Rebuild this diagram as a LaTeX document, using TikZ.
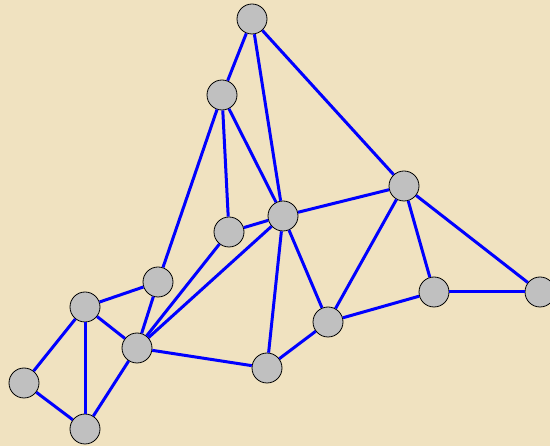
\documentclass[tikz,border=0pt]{standalone}
\usepackage{xcolor}
\definecolor{paper}{RGB}{240,226,192}
\definecolor{vgray}{RGB}{192,192,192}
\begin{document}
\begin{tikzpicture}[x=1pt, y=-1pt,
	vertex/.style={circle, draw=black, line width=0.8pt, fill=vgray, minimum size=30pt, inner sep=0pt},
	link/.style={blue, line width=3pt}]
	\useasboundingbox (0, 0) rectangle (550, 446);
	\clip (0, 0) rectangle (550, 446);
	\fill[paper] (0, 0) rectangle (550, 446);
	\node[vertex] (a) at (252, 19) {};
	\node[vertex] (b) at (222, 95) {};
	\node[vertex] (c) at (404, 186) {};
	\node[vertex] (d) at (283, 216) {};
	\node[vertex] (e) at (229, 232) {};
	\node[vertex] (f) at (158, 282) {};
	\node[vertex] (g) at (85, 307) {};
	\node[vertex] (h) at (137, 348) {};
	\node[vertex] (i) at (24, 383) {};
	\node[vertex] (j) at (85, 429) {};
	\node[vertex] (k) at (267, 368) {};
	\node[vertex] (l) at (328, 322) {};
	\node[vertex] (m) at (434, 292) {};
	\node[vertex] (n) at (540, 292) {};
	\draw[link] (a) -- (b);
	\draw[link] (a) -- (d);
	\draw[link] (a) -- (c);
	\draw[link] (b) -- (e);
	\draw[link] (b) -- (d);
	\draw[link] (b) -- (f);
	\draw[link] (e) -- (d);
	\draw[link] (e) -- (h);
	\draw[link] (d) -- (h);
	\draw[link] (d) -- (c);
	\draw[link] (d) -- (l);
	\draw[link] (d) -- (k);
	\draw[link] (c) -- (l);
	\draw[link] (c) -- (m);
	\draw[link] (c) -- (n);
	\draw[link] (m) -- (n);
	\draw[link] (l) -- (m);
	\draw[link] (k) -- (l);
	\draw[link] (h) -- (k);
	\draw[link] (f) -- (h);
	\draw[link] (f) -- (g);
	\draw[link] (g) -- (h);
	\draw[link] (g) -- (i);
	\draw[link] (g) -- (j);
	\draw[link] (h) -- (j);
	\draw[link] (i) -- (j);
\end{tikzpicture}
\end{document}
